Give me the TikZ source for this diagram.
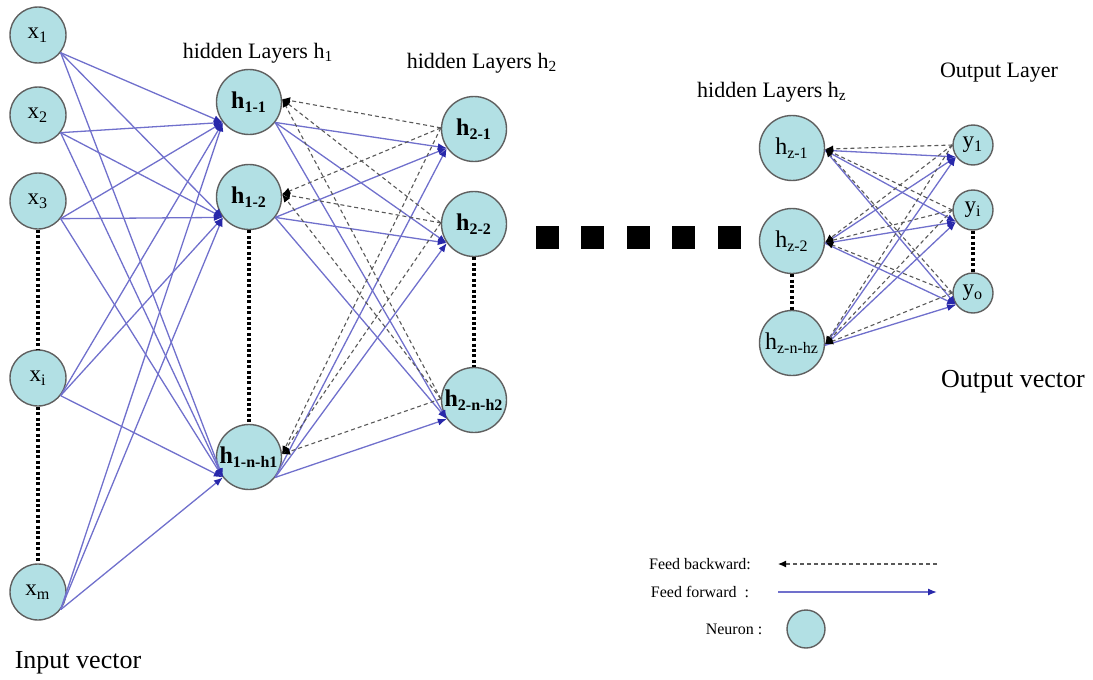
\documentclass[tikz,border=0pt]{standalone}
\usepackage{fontspec}
\setmainfont{Liberation Serif}
\usetikzlibrary{arrows.meta, positioning}

\definecolor{cellfill}{RGB}{178,224,228}
\definecolor{cellline}{RGB}{95,95,95}
\definecolor{fwdblue}{RGB}{112,112,204}
\definecolor{tipblue}{RGB}{40,40,170}

\begin{document}
\begin{tikzpicture}[x=0.5pt,y=-0.5pt,
 neuron node/.style={circle,draw=cellline,fill=cellfill,line width=0.7pt,
   inner sep=0pt,font=\fontsize{11.5}{11.5}\selectfont},
 in node/.style={neuron node,minimum size=28pt},
 hid node/.style={neuron node,minimum size=32.5pt,font=\fontsize{12}{12}\selectfont},
 out node/.style={neuron node,minimum size=20pt},
 fwd/.style={draw=fwdblue,line width=0.65pt,
   -{Latex[length=4.5pt,width=3.5pt,color=tipblue]}},
 bwd/.style={draw=black!65,line width=0.55pt,dash pattern=on 2pt off 1.5pt,
   -{Latex[length=4pt,width=3.5pt,color=black]}},
 dotline/.style={line width=2pt,dash pattern=on 1.5pt off 1.2pt},
 title/.style={font=\fontsize{11}{11}\selectfont},
 caption/.style={font=\fontsize{13}{13}\selectfont},
 legend/.style={font=\fontsize{8}{8}\selectfont}]

  \useasboundingbox (0,0) rectangle (1093,680);

  % input layer
  \node[in node] (X1) at (38,35) {x\textsubscript{1}};
  \node[in node] (X2) at (38,115) {x\textsubscript{2}};
  \node[in node] (X3) at (38,201) {x\textsubscript{3}};
  \node[in node] (Xi) at (38,378) {x\textsubscript{i}};
  \node[in node] (Xm) at (38,592) {x\textsubscript{m}};

  % hidden layers
  \node[hid node] (H11) at (249,102) {\textbf{h\textsubscript{1-1}}};
  \node[hid node] (H12) at (249,197) {\textbf{h\textsubscript{1-2}}};
  \node[hid node] (H1n) at (249,457) {\textbf{h\textsubscript{1-n-h1}}};
  \node[hid node] (H21) at (474,129) {\textbf{h\textsubscript{2-1}}};
  \node[hid node] (H22) at (474,224) {\textbf{h\textsubscript{2-2}}};
  \node[hid node] (H2n) at (474,400) {\textbf{h\textsubscript{2-n-h2}}};
  \node[hid node] (Hz1) at (792,148) {h\textsubscript{z-1}};
  \node[hid node] (Hz2) at (792,241) {h\textsubscript{z-2}};
  \node[hid node] (Hzn) at (792,343) {h\textsubscript{z-n-hz}};

  % output layer
  \node[out node] (Y1) at (973,145) {y\textsubscript{1}};
  \node[out node] (Yi) at (973,210) {y\textsubscript{i}};
  \node[out node] (Yo) at (973,293) {y\textsubscript{o}};

  \node[title] (T1) at (258,53) {hidden Layers h\textsubscript{1}};
  \node[title] (T2) at (482,63) {hidden Layers h\textsubscript{2}};
  \node[title] (Tz) at (772,92) {hidden Layers h\textsubscript{z}};
  \node[title] (To) at (999,73) {Output Layer};
  \node[caption] (Ci) at (78,663) {Input vector};
  \node[caption] (Co) at (1013,382) {Output vector};

  \foreach \s/\t in {X3/Xi, Xi/Xm, H12/H1n, H22/H2n, Hz2/Hzn, Yi/Yo}
   \draw[dotline] (\s) -- (\t);

  \foreach \n/\x in {1/547, 2/592, 3/638, 4/683, 5/729}
   \node[fill=black,minimum size=11.5pt,inner sep=0pt] (S\n) at (\x,237) {};

  % feed forward
  \foreach \s in {X1,X2,X3,Xi,Xm}
   \foreach \t in {H11,H12,H1n}
    \path (\s.-38) edge[fwd] (\t.218);
  \foreach \s in {H11,H12,H1n}
   \foreach \t in {H21,H22,H2n}
    \path (\s.-38) edge[fwd] (\t.215);
  \foreach \s in {Hz1,Hz2,Hzn}
   \foreach \t in {Y1,Yi,Yo}
    \path (\s.-4) edge[fwd] (\t.215);

  % feed backward
  \foreach \s in {H21,H22,H2n}
   \foreach \t in {H11,H12,H1n}
    \path (\s.178) edge[bwd] (\t.5);
  \foreach \s in {Y1,Yi,Yo}
   \foreach \t in {Hz1,Hz2,Hzn}
    \path (\s.west) edge[bwd] (\t.-2);

  % legend
  \node[legend] (Lb) at (700,564) {Feed backward:};
  \node[legend] (Lf) at (700,592) {Feed forward\ \ :};
  \node[legend] (Ln) at (734,629) {Neuron :};
  \coordinate (b start) at (937,564);
  \coordinate (b end) at (778,564);
  \coordinate (f start) at (778,592);
  \coordinate (f end) at (937,592);
  \path (b start) edge[bwd] (b end);
  \path (f start) edge[fwd] (f end);
  \node[neuron node,minimum size=19pt] (N) at (806,629) {};

\end{tikzpicture}
\end{document}
